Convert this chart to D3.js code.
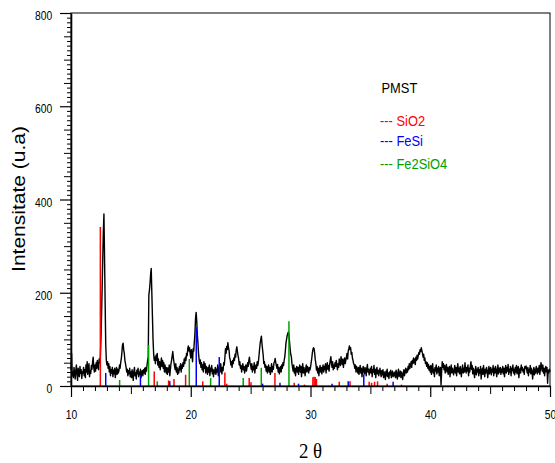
<!DOCTYPE html>
<html><head><meta charset="utf-8">
<script src="https://cdn.jsdelivr.net/npm/d3@7/dist/d3.min.js"></script>
<style>body{margin:0;background:#fff}svg{display:block}</style>
</head><body><svg id="c" width="555" height="463"></svg>
<script>
// ---- data ----
const thetaStart = 10, thetaStep = 0.05;
const intensity = [
35,70,22,30,18,40,28,15,33,45,25,12,38,30,20,42,27,35,16,30,
28,40,22,35,18,45,30,52,25,38,48,20,33,27,44,36,50,62,40,30,
45,32,50,38,55,42,35,58,50,62,100,150,210,270,330,369,280,180,90,55,
45,52,38,48,30,42,22,35,28,40,20,34,26,38,18,30,40,25,36,28,
32,45,38,50,58,72,88,92,78,70,55,48,40,30,36,22,33,26,38,20,
30,18,35,25,12,32,40,22,28,15,34,26,38,20,30,24,36,18,28,33,
22,35,28,38,25,40,32,45,55,62,195,205,220,240,252,200,150,100,70,55,
62,48,66,55,70,45,58,40,52,35,47,60,42,55,38,50,30,45,35,28,
40,25,38,30,45,22,36,48,55,65,74,60,50,42,35,48,30,40,25,36,
28,42,35,48,30,45,38,50,42,58,48,62,55,70,65,80,86,75,82,70,
60,78,70,52,80,75,95,113,145,158,140,110,92,70,56,48,56,40,50,35,
45,30,52,38,48,28,42,35,25,40,30,45,22,38,32,44,26,36,20,34,
28,40,25,36,30,45,22,38,42,30,48,35,26,40,33,50,45,60,80,70,
85,78,93,82,76,60,56,45,52,40,55,48,60,55,68,62,78,84,74,65,
58,45,52,38,44,30,40,48,35,42,28,38,45,32,40,50,42,55,62,50,
44,36,48,30,42,35,50,28,40,45,38,52,44,52,65,80,92,100,107,90,
78,66,48,52,40,45,32,42,28,38,45,30,40,25,35,48,30,42,36,50,
52,59,50,44,38,46,30,40,26,35,42,30,45,38,50,44,55,62,75,92,
100,108,112,116,110,95,80,68,63,48,40,32,45,28,38,22,35,42,30,40,
25,38,45,30,42,20,35,48,28,40,33,22,38,45,30,42,35,28,40,34,
40,49,58,70,78,82,80,70,56,48,34,42,28,38,22,35,44,30,40,26,
38,45,30,42,35,48,28,40,50,36,44,32,46,55,63,48,40,52,35,45,
38,50,42,55,45,35,48,40,58,50,44,63,52,46,58,40,52,60,48,55,
62,70,58,75,80,86,78,82,68,72,60,55,48,46,38,45,30,42,35,28,
40,25,36,44,28,38,20,33,42,30,26,40,35,22,38,46,30,36,24,32,
38,28,42,20,35,30,44,25,36,18,32,40,26,34,22,30,38,28,20,33,
24,35,18,30,26,14,32,22,36,20,28,16,30,24,34,18,26,32,20,28,
22,30,18,34,26,15,28,36,20,25,32,18,30,24,14,28,35,22,30,38,
28,36,30,42,35,48,38,45,52,40,55,48,60,50,58,46,62,55,66,58,
65,72,68,78,74,82,76,70,62,68,55,60,48,52,42,50,38,46,34,42,
30,44,25,38,48,28,36,20,40,32,45,26,38,30,42,22,35,40,2,30,
52,40,48,35,44,28,38,46,30,40,25,36,42,20,34,45,28,38,32,24,
36,44,28,40,22,35,48,30,38,26,42,33,20,36,45,28,38,30,50,35,
28,40,32,45,22,38,30,42,52,36,44,26,38,30,18,34,42,24,36,30,
40,22,35,28,42,15,32,38,25,44,30,20,36,28,40,33,18,30,42,26,
34,40,24,36,30,44,22,38,28,42,35,20,32,45,26,38,30,40,25,36,
30,42,26,38,20,34,44,28,40,32,46,25,36,30,42,22,38,33,45,28,
36,24,40,30,44,26,35,42,18,32,38,28,45,34,40,30,36,25,42,38,
43,35,28,40,22,36,30,44,26,38,32,15,30,40,24,36,28,42,34,26,
38,30,44,25,36,50,40,32,45,28,38,22,35,42,30,40,6,34,28,36,
30];

const sio2Pos = [12.45,16.95,18.15,18.6,19.57,21.0,22.85,23.0,24.88,25.03,27.03,28.64,29.5,30.2,30.3,30.4,30.5,32.4,33.3,34.9,35.1,35.35,35.6,36.4,37.6];
const sio2Int = [341,31,12,15,24,10,29,5,17,8,28,7,3,19,20,19,15,9,10,9,7,9,10,5,3];
const fesiPos = [12.9,15.8,18.25,20.46,22.38,26.0,27.45,29.0,31.8,33.15,34.45,36.9];
const fesiInt = [28,23,10,126,62,5,7,5,5,10,25,9];
const fe2sio4Pos = [14.06,16.48,17.2,19.88,21.66,24.38,25.89,28.2];
const fe2sio4Int = [13,88,10,58,17,17,39,139];

const xTicks = [10,20,30,40,50];
const yTicks = [0,200,400,600,800];
const legendTitle = "PMST";
const legendLabels = ["--- SiO2","--- FeSi","--- Fe2SiO4"];
const legendColors = ["#ff0000","#0000ff","#00a000"];
const xTitle = "2 \u03b8";
const yTitle = "Intensitate (u.a)";

// ---- drawing ----
const svg = d3.select("#c");
const L=71, R=550, T=13, B=386, SX=0.86;
const x = d3.scaleLinear().domain([10,50]).range([L,R]);
const y = d3.scaleLinear().domain([0,800]).range([B,T]);

// pattern line
const pts = intensity.map((v,i)=>[thetaStart+i*thetaStep, v]);
svg.append("path").datum(pts)
  .attr("fill","none").attr("stroke","#000").attr("stroke-width",1.4)
  .attr("stroke-linejoin","round")
  .attr("d", d3.line().x(d=>x(d[0])).y(d=>y(d[1])));

// reference sticks
function sticks(pos, val, color){
  svg.append("g").selectAll("line").data(pos.map((p,i)=>[p,val[i]])).join("line")
    .attr("x1",d=>x(d[0])).attr("x2",d=>x(d[0]))
    .attr("y1",y(0)).attr("y2",d=>y(d[1]))
    .attr("stroke",color).attr("stroke-width",1.5);
}
sticks(sio2Pos, sio2Int, legendColors[0]);
sticks(fesiPos, fesiInt, legendColors[1]);
sticks(fe2sio4Pos, fe2sio4Int, legendColors[2]);

// frame
svg.append("rect").attr("x",L).attr("y",T).attr("width",R-L).attr("height",B-T)
  .attr("fill","none").attr("stroke","#000").attr("stroke-width",1);

const font = "'Liberation Sans', Arial, sans-serif";

// y axis
const yMinor = d3.range(0,801,10).filter(v=>v%50!==0);
const yMid = d3.range(0,801,50).filter(v=>v%200!==0);
svg.append("g").attr("transform",`translate(${L},0)`)
  .call(d3.axisLeft(y).tickValues(yMinor).tickSize(4).tickFormat(""))
  .call(g=>g.select(".domain").remove());
svg.append("g").attr("transform",`translate(${L},0)`)
  .call(d3.axisLeft(y).tickValues(yMid).tickSize(7).tickFormat(""))
  .call(g=>g.select(".domain").remove());
const ya = svg.append("g").attr("transform",`translate(${L},0)`)
  .call(d3.axisLeft(y).tickValues(yTicks).tickSize(11).tickPadding(10.7).tickSizeOuter(0));
ya.select(".domain").attr("stroke-width",1.6);
ya.selectAll(".tick line").attr("stroke-width",1.2);
ya.selectAll("text").attr("font-family",font).attr("font-size",12).attr("fill","#000")
  .attr("dy","0.55em").attr("transform",`scale(${SX},1)`);

// x axis
const xMinor = d3.range(10,51,1).filter(v=>v%5!==0);
const xMid = [15,25,35,45];
svg.append("g").attr("transform",`translate(0,${B})`)
  .call(d3.axisBottom(x).tickValues(xMinor).tickSize(5).tickFormat(""))
  .call(g=>g.select(".domain").remove());
svg.append("g").attr("transform",`translate(0,${B})`)
  .call(d3.axisBottom(x).tickValues(xMid).tickSize(8).tickFormat(""))
  .call(g=>g.select(".domain").remove());
const xa = svg.append("g").attr("transform",`translate(0,${B})`)
  .call(d3.axisBottom(x).tickValues(xTicks).tickSize(11).tickPadding(13).tickSizeOuter(0));
xa.select(".domain").attr("stroke-width",1.6);
xa.selectAll(".tick line").attr("stroke-width",1.2);
xa.selectAll("text").attr("font-family",font).attr("font-size",12).attr("fill","#000")
  .attr("transform",`scale(${SX},1)`);

// axis titles
svg.append("text").attr("transform",`translate(25,199) scale(${SX},1) rotate(-90)`)
  .attr("text-anchor","middle").attr("font-family",font).attr("font-size",21)
  .attr("fill","#000").text(yTitle);
svg.append("text").attr("transform",`translate(310.5,458) scale(0.9,1)`)
  .attr("text-anchor","middle").attr("font-family","'Liberation Serif','Times New Roman',serif")
  .attr("font-size",21).attr("fill","#000").text(xTitle);

// legend
svg.append("text").attr("transform",`translate(381.5,93.3) scale(${SX},1)`)
  .attr("font-family",font).attr("font-size",15).attr("fill","#000").text(legendTitle);
const legY = [125.7,146,169.3];
legendLabels.forEach((t,i)=>{
  svg.append("text").attr("transform",`translate(380,${legY[i]}) scale(${SX},1)`)
    .attr("font-family",font).attr("font-size",15).attr("fill",legendColors[i]).text(t);
});
</script></body></html>
